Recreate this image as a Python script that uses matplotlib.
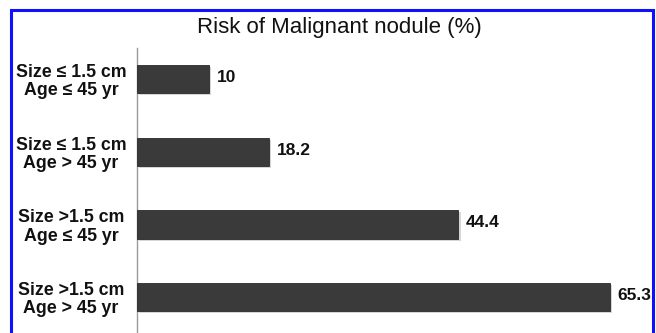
import matplotlib
matplotlib.use("Agg")
import matplotlib.pyplot as plt
import matplotlib.patches as mpatches
import matplotlib.patheffects as pe

plt.rcParams['font.family'] = ['Liberation Sans', 'DejaVu Sans']

categories = [
    "Size \u2264 1.5 cm\nAge \u2264 45 yr",
    "Size \u2264 1.5 cm\nAge > 45 yr",
    "Size >1.5 cm\nAge \u2264 45 yr",
    "Size >1.5 cm\nAge > 45 yr",
]
risk = [10, 18.2, 44.4, 65.3]
value_labels = ["10", "18.2", "44.4", "65.3"]
title = "Risk of Malignant nodule (%)"

W, H, DPI = 656, 333, 100
fig = plt.figure(figsize=(W / DPI, H / DPI), dpi=DPI)
fig.patch.set_facecolor("white")

ax = fig.add_axes([137 / W, 0, 652 / W - 137 / W, 1 - 48 / H])
ypos = list(range(len(categories)))
bars = ax.barh(ypos, risk, height=0.39, color="#3a3a3a",
               edgecolor="#2a2a2a", linewidth=0.6, zorder=3)
for b in bars:
    b.set_path_effects([pe.SimplePatchShadow(offset=(1.5, -1.5), shadow_rgbFace="#bbbbbb", alpha=0.6),
                        pe.Normal()])

ax.set_xlim(0, (652 - 137) / 7.24)
ax.set_ylim(3.495, -0.427)

for y, v, s in zip(ypos, risk, value_labels):
    ax.annotate(s, xy=(v, y), xytext=(5.5, 1), textcoords="offset points",
                ha="left", va="center", fontsize=12.5, fontweight="bold", color="#111111")

ax.set_yticks(ypos)
ax.set_yticklabels(categories, fontsize=12.8, fontweight="bold", color="#111111",
                   linespacing=1.1)
for t in ax.get_yticklabels():
    t.set_horizontalalignment("center")
ax.tick_params(axis="y", length=0, pad=47.5)
ax.set_xticks([])

for side in ["top", "right", "bottom"]:
    ax.spines[side].set_visible(False)
ax.spines["left"].set_color("#9a9a9a")
ax.spines["left"].set_linewidth(1.0)
ax.set_facecolor("none")

fig.text(339 / W, 1 - 27 / H, title, ha="center", va="center", fontsize=16, color="#111111")

border = mpatches.Rectangle((10.5 / W, -0.05), (653 - 10.5) / W, 1.05 - 10.5 / H,
                            transform=fig.transFigure, fill=False,
                            edgecolor="#1010ff", linewidth=2.2, clip_on=False)
fig.patches.append(border)

fig.savefig("out.png", dpi=DPI)
